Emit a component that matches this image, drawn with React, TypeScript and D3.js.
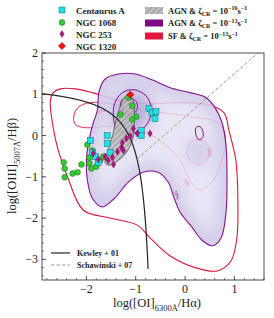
import React from 'react';
import * as d3 from 'd3';

type P = [number, number];

const xDomain: P = [-2.9, 1.6];
const yDomain: P = [-3.5, 2];
const xTicks = [-2, -1, 0, 1];
const yTicks = [-3, -2, -1, 0, 1, 2];

// SF zeta=1e-13 contours
const sfOuter: P[] = [
  [-2.73, 0.84], [-2.67, 1.04], [-2.53, 1.13], [-2.22, 1.13], [-1.88, 1.04], [-1.41, 0.87],
  [-0.81, 0.77], [-0.10, 0.80], [0.46, 0.75], [0.79, 0.55], [0.89, 0.12], [1.03, -0.60],
  [1.07, -1.57], [1.05, -2.48], [0.93, -3.04], [0.65, -3.28], [0.20, -3.20], [-0.30, -2.92],
  [-0.71, -2.48], [-0.97, -2.17], [-1.52, -2.00], [-2.06, -1.81], [-2.38, -1.01], [-2.57, -0.36],
  [-2.67, 0.17],
];
const sfMid: P[] = [
  [-2.26, 0.41], [-2.18, 0.67], [-1.92, 0.80], [-1.41, 0.75], [-0.71, 0.60], [0.10, 0.46],
  [0.67, 0.31], [0.81, 0.0], [0.75, -0.60], [0.57, -1.08], [0.30, -1.33], [0.10, -1.08],
  [-0.10, -0.60], [-0.51, -0.12], [-0.91, 0.12], [-1.52, 0.22], [-2.02, 0.19], [-2.22, 0.26],
];
const sfInner: P[] = [
  [0.04, -0.39], [0.10, -0.17], [0.26, -0.10], [0.44, -0.19], [0.48, -0.41], [0.42, -0.63],
  [0.26, -0.70], [0.10, -0.60],
];

// AGN zeta=1e-13 contours
const agnOuter: P[] = [
  [-1.78, 0.60], [-1.74, 1.08], [-1.62, 1.37], [-1.35, 1.49], [-1.01, 1.49], [-0.67, 1.35],
  [-0.30, 1.16], [0.10, 1.04], [0.42, 0.92], [0.61, 0.67], [0.75, 0.31], [0.83, -0.24],
  [0.85, -1.08], [0.83, -1.86], [0.73, -2.48], [0.55, -2.67], [0.34, -2.53], [0.14, -2.22],
  [-0.10, -1.86], [-0.22, -1.52], [-0.34, -1.13], [-0.55, -0.89], [-0.85, -0.89], [-1.15, -1.13],
  [-1.43, -1.52], [-1.68, -1.73], [-1.88, -1.52], [-1.98, -1.08], [-2.00, -0.60], [-1.94, -0.07],
  [-1.86, 0.31],
];
const agnMid: P[] = [
  [-1.45, 0.41], [-1.43, 0.77], [-1.27, 1.04], [-1.03, 1.11], [-0.79, 0.96], [-0.69, 0.70],
  [-0.73, 0.36], [-0.91, 0.12], [-1.19, 0.05], [-1.39, 0.17],
];
const agnInner: P[] = [
  [-1.31, 0.70], [-1.27, 0.87], [-1.13, 0.92], [-0.99, 0.82], [-0.97, 0.65], [-1.07, 0.51],
  [-1.23, 0.53],
];
const agnIsland: P[] = [
  [0.22, 0.19], [0.30, 0.22], [0.36, 0.10], [0.36, -0.05], [0.28, -0.10], [0.22, 0.02],
];

// AGN zeta=1e-16 region
const agn16: P[] = [
  [-1.17, 0.96], [-1.07, 0.89], [-1.03, 0.60], [-1.03, 0.24], [-1.07, -0.12], [-1.19, -0.41],
  [-1.35, -0.60], [-1.56, -0.72], [-1.62, -0.65], [-1.56, -0.36], [-1.47, 0.0], [-1.39, 0.41],
  [-1.31, 0.72], [-1.25, 0.89],
];

// observations
const centaurusA: P[] = [
  [-0.73, 0.65], [-0.67, 0.55], [-0.59, 0.58], [-0.61, 0.41], [-0.89, 0.12], [-0.89, 0.0],
  [-1.58, 0.0], [-1.58, -0.19], [-1.52, -0.41], [-1.92, -0.12], [-1.88, -0.41], [-1.82, -0.51],
  [-1.76, -0.65],
];
const ngc1068: P[] = [
  [-1.15, 0.92], [-1.07, 0.72], [-1.31, 0.51], [-0.99, 0.46], [-1.07, 0.39],
  [-2.46, -0.65], [-2.44, -0.80], [-2.44, -1.01], [-2.28, -0.92], [-2.18, -0.89], [-2.10, -0.70],
  [-1.98, -0.22], [-1.88, -0.36], [-1.94, -0.53], [-1.94, -0.67], [-1.90, -0.80], [-1.80, -0.75],
  [-1.72, -0.60], [-1.66, -0.51],
];
const ngc253: P[] = [
  [-1.86, -0.43], [-1.76, -0.58], [-1.62, -0.51], [-1.56, -0.60], [-1.47, -0.53], [-1.37, -0.39],
  [-1.29, -0.29], [-1.27, -0.17], [-1.19, -0.07], [-1.11, -0.02], [-1.05, 0.17], [-0.97, 0.05],
  [-0.71, 0.05], [-1.25, -0.36], [-1.45, -0.70],
];
const ngc1320: P[] = [[-1.11, 0.99]];

const PURPLE = '#85108f';
const CRIMSON = '#dc143c';
const FONT = 'Liberation Serif, DejaVu Serif, serif';

export default function App() {
  const L = 42, R = 264, T = 53, B = 280;
  const x = d3.scaleLinear().domain(xDomain).range([L, R]);
  const y = d3.scaleLinear().domain(yDomain).range([B, T]);
  const closed = d3.line<P>().x(d => x(d[0])).y(d => y(d[1])).curve(d3.curveCatmullRomClosed.alpha(0.5));
  const open = d3.line<P>().x(d => x(d[0])).y(d => y(d[1]));

  // Kewley+01 OI line
  const kew: P[] = d3.range(xDomain[0], -0.735, 0.01).map(v => [v, 0.73 / (v + 0.59) + 1.33] as P)
    .filter(p => p[1] >= yDomain[0]);
  // Schawinski+07 line
  const sch: P[] = [[-0.974, 1.05 * -0.974 + 0.45], [(2 - 0.45) / 1.05, 2]];

  const xMinor = d3.range(-2.8, 1.61, 0.2).filter(v => Math.abs(v - Math.round(v)) > 0.01);
  const yMinor = d3.range(-3.4, 2.0, 0.2).filter(v => Math.abs(v - Math.round(v)) > 0.01);

  const fmt = (v: number) => (v < 0 ? '\u2212' + Math.abs(v) : String(v));
  const diamond = (cx: number, cy: number, w: number, h: number) =>
    `M${cx},${cy - h}L${cx + w},${cy}L${cx},${cy + h}L${cx - w},${cy}Z`;

  return (
    <svg width={274} height={318} style={{ position: 'absolute', left: 0, top: 0 }} fontFamily={FONT}>
      <defs>
        <pattern id="hatch" width="4" height="4" patternUnits="userSpaceOnUse" patternTransform="rotate(45)">
          <rect width="4" height="4" fill="#bdbdbd" />
          <line x1="0" y1="0" x2="0" y2="4" stroke="#7a7a7a" strokeWidth="1.2" />
        </pattern>
        <filter id="blur" x="-50%" y="-50%" width="200%" height="200%">
          <feGaussianBlur stdDeviation="8" />
        </filter>
        <clipPath id="agnclip"><path d={closed(agnOuter)!} /></clipPath>
        <clipPath id="plotclip"><rect x={L} y={T} width={R - L} height={B - T} /></clipPath>
      </defs>

      <g clipPath="url(#plotclip)">
        {/* SF contours */}
        <path d={closed(sfOuter)!} fill="none" stroke={CRIMSON} strokeWidth={1.1} />
        <path d={closed(sfMid)!} fill="none" stroke={CRIMSON} strokeWidth={0.9} />
        <path d={closed(sfInner)!} fill="none" stroke={CRIMSON} strokeWidth={0.9} />

        {/* AGN density */}
        <g clipPath="url(#agnclip)">
          <path d={closed(agnOuter)!} fill="#e4e0f3" fillOpacity={0.82} />
          <g filter="url(#blur)">
            <path d={closed(agnOuter)!} fill="none" stroke="#b4aad8" strokeWidth={14} strokeOpacity={0.55} />
            <path d={closed(agnMid)!} fill="#9486c8" fillOpacity={0.6} />
            <path d={closed(sfInner)!} fill="#aa9fd6" fillOpacity={0.45} />
          </g>
        </g>
        <path d={closed(agnOuter)!} fill="none" stroke={PURPLE} strokeWidth={1.1} />
        <path d={closed(agnMid)!} fill="none" stroke={PURPLE} strokeWidth={1} />
        <path d={closed(agnInner)!} fill="none" stroke={PURPLE} strokeWidth={0.9} />
        <path d={closed(agnIsland)!} fill="none" stroke={PURPLE} strokeWidth={1} />

        {/* labels */}
        <text x={x(-0.2)} y={y(-1.45)} fontSize={5} fill={PURPLE} transform={`rotate(68 ${x(-0.2)} ${y(-1.45)})`} textAnchor="middle">10%</text>
        <text x={x(0.0)} y={y(-1.15)} fontSize={5} fill="#e07a95" transform={`rotate(62 ${x(0.0)} ${y(-1.15)})`} textAnchor="middle">10%</text>
        <text x={x(0.47)} y={y(-0.42)} fontSize={5} fill="#e07a95" transform={`rotate(82 ${x(0.47)} ${y(-0.42)})`} textAnchor="middle">50%</text>
        <text x={x(-1.7)} y={y(0.55)} fontSize={5} fill="#e07a95" transform={`rotate(-15 ${x(-1.7)} ${y(0.55)})`} textAnchor="middle">50%</text>

        {/* AGN 1e-16 hatched region */}
        <path d={closed(agn16)!} fill="url(#hatch)" fillOpacity={0.85} stroke="#444" strokeWidth={0.7} />

        {/* lines */}
        <path d={open(kew)!} fill="none" stroke="#222" strokeWidth={1.2} />
        <path d={open(sch)!} fill="none" stroke="#9a9a9a" strokeWidth={1} strokeDasharray="3.5,2" />

        {/* points */}
        {ngc1068.map((p, i) => (
          <circle key={'g' + i} cx={x(p[0])} cy={y(p[1])} r={2.9} fill="#33cc33" stroke="#1d5e1d" strokeWidth={0.5} />
        ))}
        {centaurusA.map((p, i) => (
          <rect key={'c' + i} x={x(p[0]) - 3} y={y(p[1]) - 3} width={6} height={6} fill="#22e0e8" stroke="#16606a" strokeWidth={0.5} />
        ))}
        {ngc253.map((p, i) => (
          <path key={'m' + i} d={diamond(x(p[0]), y(p[1]), 2.2, 3.6)} fill="#b0177f" stroke="#5c0a44" strokeWidth={0.4} />
        ))}
        {ngc1320.map((p, i) => (
          <path key={'r' + i} d={diamond(x(p[0]), y(p[1]), 3.6, 3.6)} fill="#ff1010" stroke="#600" strokeWidth={0.5} />
        ))}
      </g>

      {/* frame */}
      <rect x={L} y={T} width={R - L} height={B - T} fill="none" stroke="#222" strokeWidth={0.8} />
      {xTicks.map(v => (
        <g key={'xt' + v}>
          <line x1={x(v)} x2={x(v)} y1={B} y2={B - 4} stroke="#222" strokeWidth={0.8} />
          <text x={x(v)} y={B + 13} fontSize={12} textAnchor="middle" fill="#222">{fmt(v)}</text>
        </g>
      ))}
      {xMinor.map((v, i) => (
        <line key={'xm' + i} x1={x(v)} x2={x(v)} y1={B} y2={B - 2} stroke="#222" strokeWidth={0.6} />
      ))}
      {yTicks.map(v => (
        <g key={'yt' + v}>
          <line x1={L} x2={L + 4} y1={y(v)} y2={y(v)} stroke="#222" strokeWidth={0.8} />
          <text x={L - 4} y={y(v) + 4} fontSize={12} textAnchor="end" fill="#222">{fmt(v)}</text>
        </g>
      ))}
      {yMinor.map((v, i) => (
        <line key={'ym' + i} x1={L} x2={L + 2} y1={y(v)} y2={y(v)} stroke="#222" strokeWidth={0.6} />
      ))}

      {/* axis labels */}
      <text x={157} y={307} fontSize={12.5} textAnchor="middle" fill="#222">
        log([OI]<tspan fontSize={8.5} dy={3.5}>6300Å</tspan><tspan dy={-3.5}>/Hα)</tspan>
      </text>
      <text transform="translate(16,166) rotate(-90)" fontSize={12.5} textAnchor="middle" fill="#222">
        log([OIII]<tspan fontSize={8.5} dy={3.5}>5007Å</tspan><tspan dy={-3.5}>/Hβ)</tspan>
      </text>

      {/* legend: observations */}
      <g fontSize={9} fontWeight="bold" fill="#222">
        <rect x={59} y={7} width={6} height={6} fill="#22e0e8" stroke="#16606a" strokeWidth={0.5} />
        <text x={76} y={13.5}>Centaurus A</text>
        <circle cx={62} cy={22.5} r={2.9} fill="#33cc33" stroke="#1d5e1d" strokeWidth={0.5} />
        <text x={76} y={25.5}>NGC 1068</text>
        <path d={diamond(62, 34, 2.2, 3.6)} fill="#b0177f" stroke="#5c0a44" strokeWidth={0.4} />
        <text x={76} y={37.5}>NGC 253</text>
        <path d={diamond(62, 46, 3.6, 3.6)} fill="#ff1010" stroke="#600" strokeWidth={0.5} />
        <text x={76} y={49.5}>NGC 1320</text>
      </g>

      {/* legend: models */}
      <g fontSize={8.5} fontWeight="bold" fill="#222">
        <rect x={145} y={7} width={18} height={7} fill="url(#hatch)" />
        <text x={168} y={13.5}>AGN &amp; ζ<tspan fontSize={6} dy={2}>CR</tspan><tspan dy={-2}> = 10</tspan><tspan fontSize={6} dy={-3.5}>−16</tspan><tspan dy={3.5}>s</tspan><tspan fontSize={6} dy={-3.5}>−1</tspan></text>
        <rect x={145} y={19.5} width={18} height={7} fill="#7a0a87" />
        <text x={168} y={26}>AGN &amp; ζ<tspan fontSize={6} dy={2}>CR</tspan><tspan dy={-2}> = 10</tspan><tspan fontSize={6} dy={-3.5}>−13</tspan><tspan dy={3.5}>s</tspan><tspan fontSize={6} dy={-3.5}>−1</tspan></text>
        <rect x={145} y={32.5} width={18} height={7} fill="#e0193c" />
        <text x={168} y={39}>SF &amp; ζ<tspan fontSize={6} dy={2}>CR</tspan><tspan dy={-2}> = 10</tspan><tspan fontSize={6} dy={-3.5}>−13</tspan><tspan dy={3.5}>s</tspan><tspan fontSize={6} dy={-3.5}>−1</tspan></text>
      </g>

      {/* legend: lines */}
      <g fontSize={8} fontWeight="bold" fill="#222">
        <line x1={51} x2={70} y1={253} y2={253} stroke="#222" strokeWidth={1.2} />
        <text x={77} y={256}>Kewley + 01</text>
        <line x1={51} x2={70} y1={265} y2={265} stroke="#9a9a9a" strokeWidth={1} strokeDasharray="3.5,2" />
        <text x={77} y={268}>Schawinski + 07</text>
      </g>
    </svg>
  );
}
